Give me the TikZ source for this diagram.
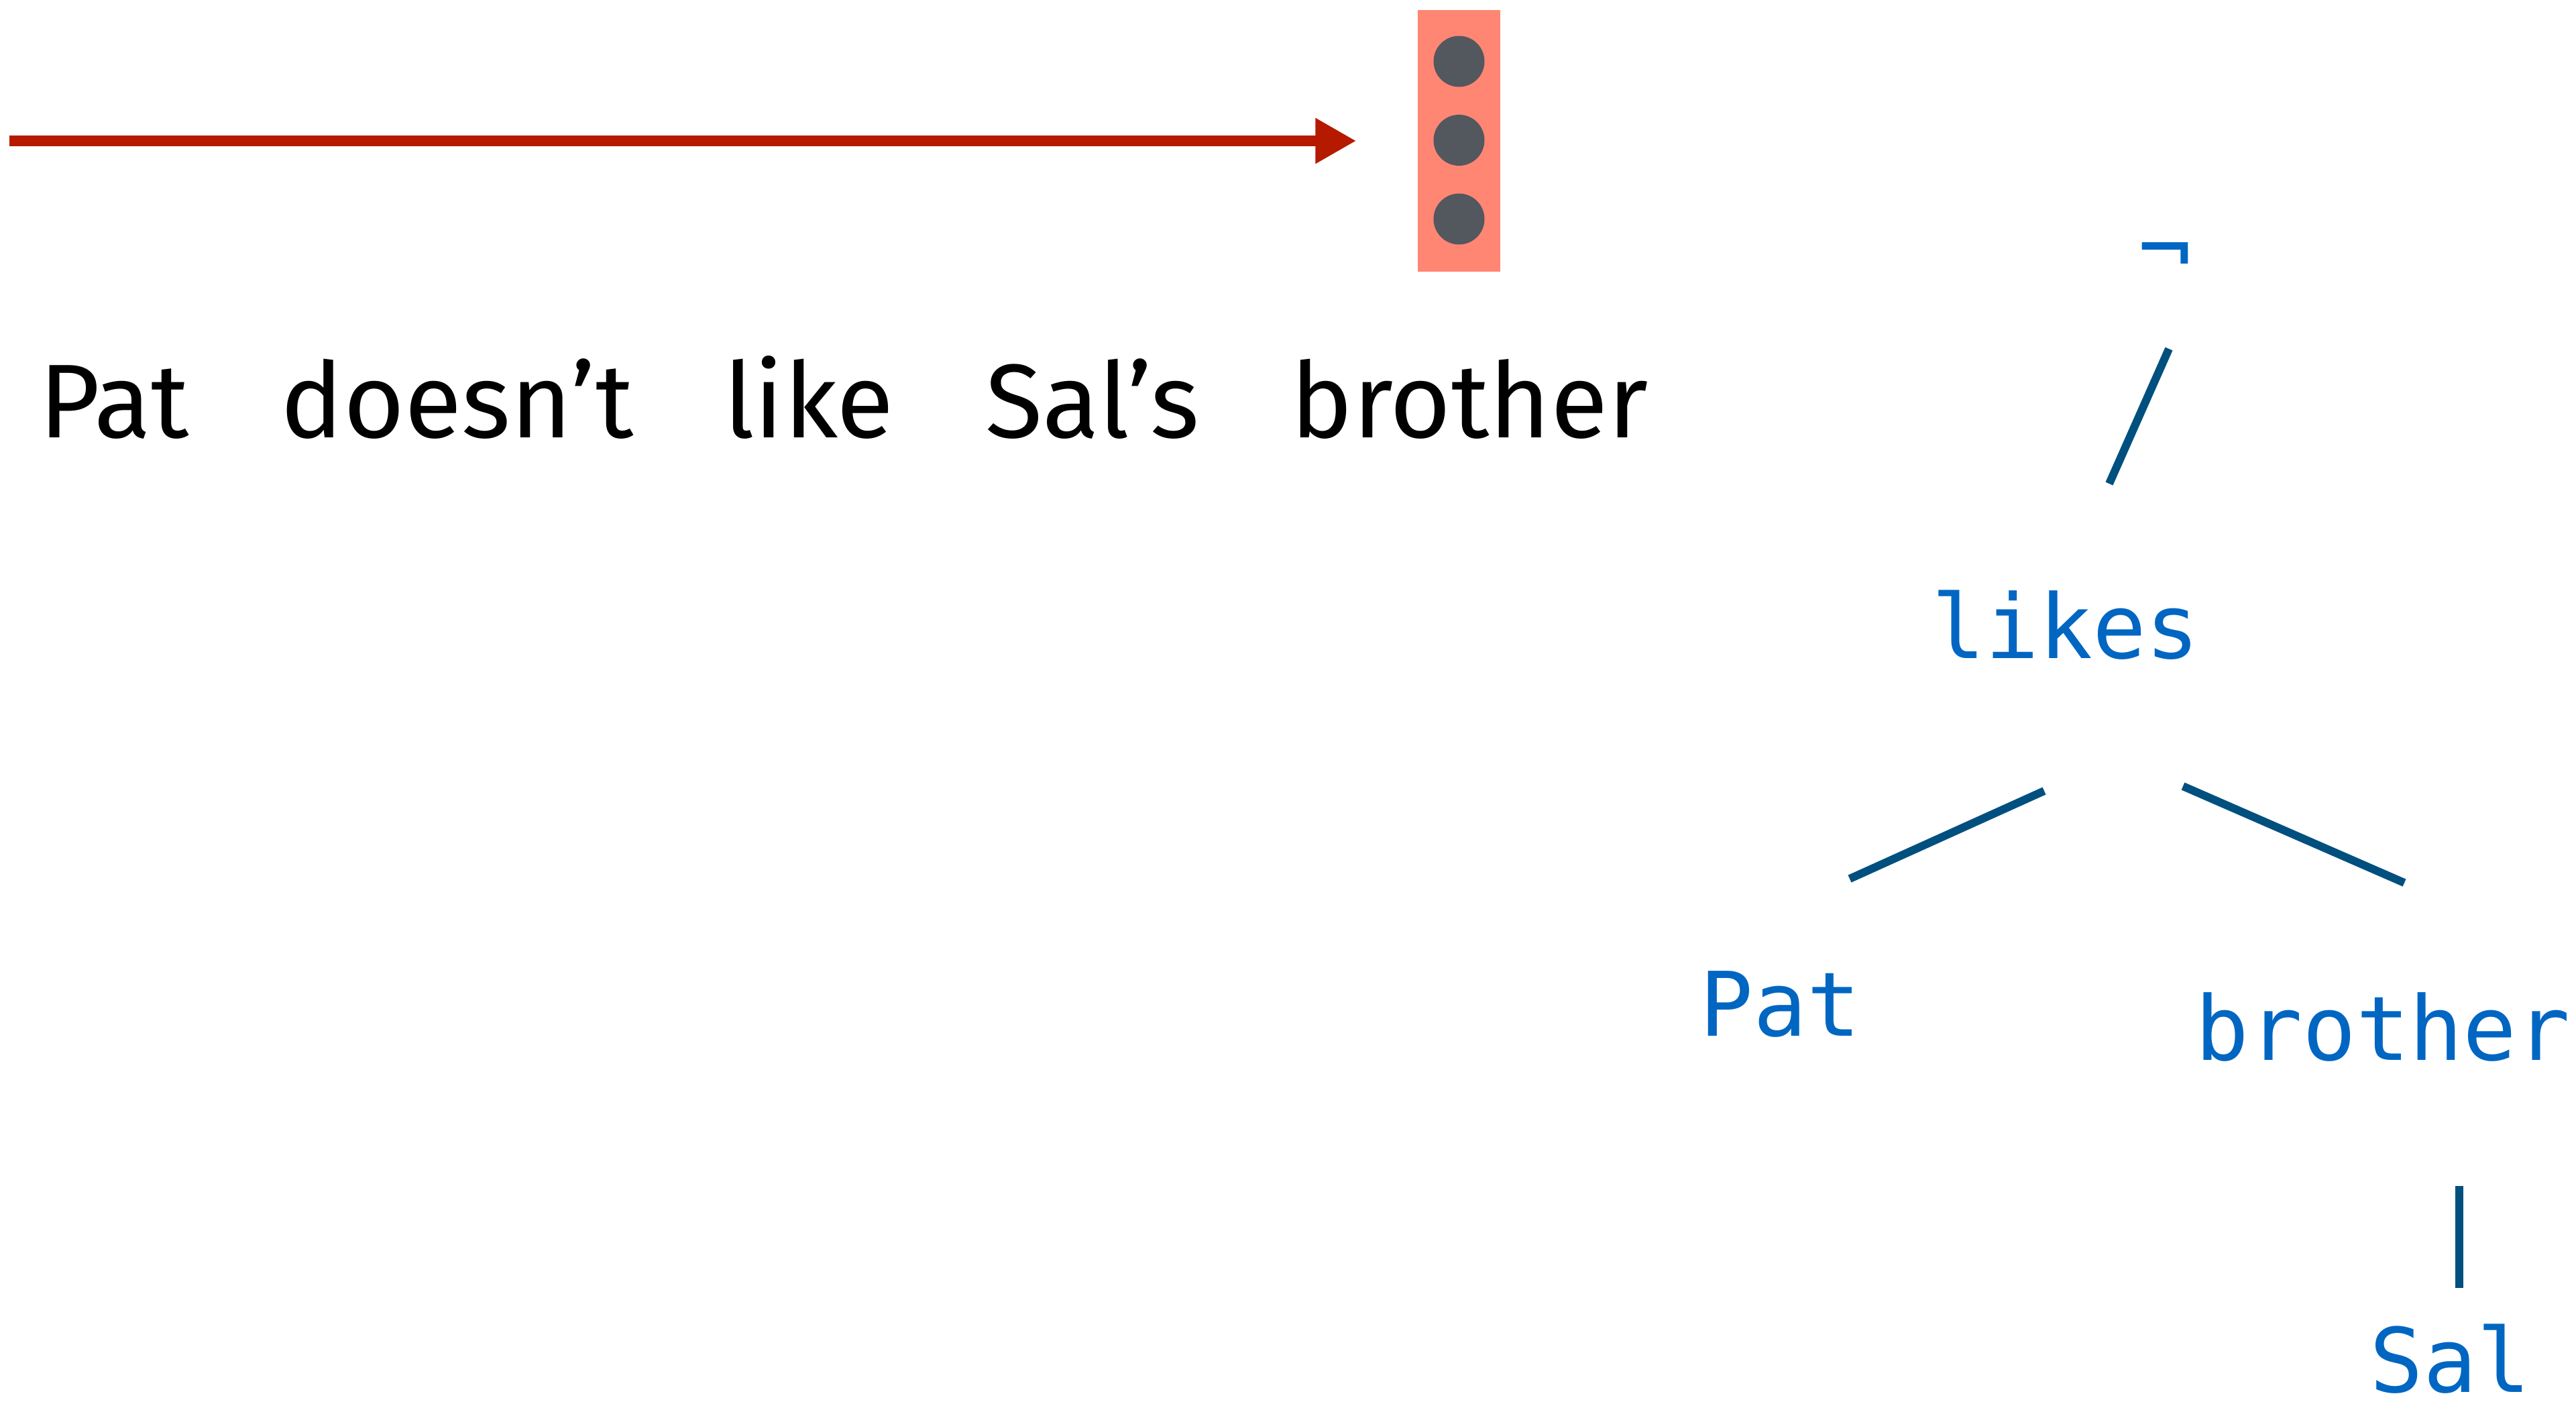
\documentclass[tikz,border=0pt]{standalone}
\usepackage{fontspec}
\setmainfont{Fira Sans}
\newfontfamily\monofont{DejaVu Sans Mono}
\usetikzlibrary{arrows.meta}
\definecolor{arrowred}{HTML}{B51A00}
\definecolor{boxsalmon}{HTML}{FF8673}
\definecolor{dotgray}{HTML}{53575E}
\definecolor{treeblue}{HTML}{0066C2}
\definecolor{edgeblue}{HTML}{00507F}
\tikzset{
  word/.style={anchor=base, inner sep=0pt, font=\fontsize{44.5}{50}\selectfont, text=black},
  tword/.style={anchor=base, inner sep=0pt, font=\monofont\fontsize{37.8}{42}\selectfont, text=treeblue},
  edge/.style={draw=edgeblue, line width=0.12cm},
  dot/.style={circle, fill=dotgray, minimum size=0.76cm, inner sep=0pt},
}
\begin{document}
\begin{tikzpicture}
\useasboundingbox (0,0) rectangle (38.41,-20.89);
% vector box
\node[fill=boxsalmon, minimum width=1.23cm, minimum height=3.90cm, inner sep=0pt] (vec) at (21.755,-2.10) {};
\node[dot] (d1) at (21.755,-0.915) {};
\node[dot] (d2) at (21.755,-2.09) {};
\node[dot] (d3) at (21.755,-3.265) {};
% arrow
\coordinate (start) at (0.14,-2.10);
\draw[arrowred, line width=0.16cm, -{Triangle[length=0.61cm, width=0.64cm]}, shorten >=0.91cm] (start) -- (vec.west);
% words
\node[word] (w1) at (1.70,-6.52) {Pat};
\node[word] (w2) at (6.82,-6.52) {doesn’t};
\node[word] (w3) at (12.06,-6.52) {like};
\node[word] (w4) at (16.29,-6.52) {Sal’s};
\node[word] (w5) at (21.91,-6.52) {brother};
% tree
\node[inner sep=0pt, font=\monofont\fontsize{37.8}{42}\selectfont, text=treeblue] (neg) at (32.28,-3.90) {¬};
\node[tword] (likes) at (30.80,-9.81) {likes};
\node[tword] (pat) at (26.54,-15.44) {Pat};
\node[tword] (bro) at (35.53,-15.80) {brother};
\node[tword] (sal) at (36.53,-20.75) {Sal};
\coordinate (e1a) at (32.34,-5.20);
\coordinate (e1b) at (31.45,-7.21);
\coordinate (e2a) at (30.48,-11.79);
\coordinate (e2b) at (27.58,-13.10);
\coordinate (e3a) at (32.55,-11.72);
\coordinate (e3b) at (35.85,-13.16);
\coordinate (e4a) at (36.67,-17.68);
\coordinate (e4b) at (36.67,-19.20);
\draw[edge] (e1a) -- (e1b);
\draw[edge] (e2a) -- (e2b);
\draw[edge] (e3a) -- (e3b);
\draw[edge] (e4a) -- (e4b);
\end{tikzpicture}
\end{document}
